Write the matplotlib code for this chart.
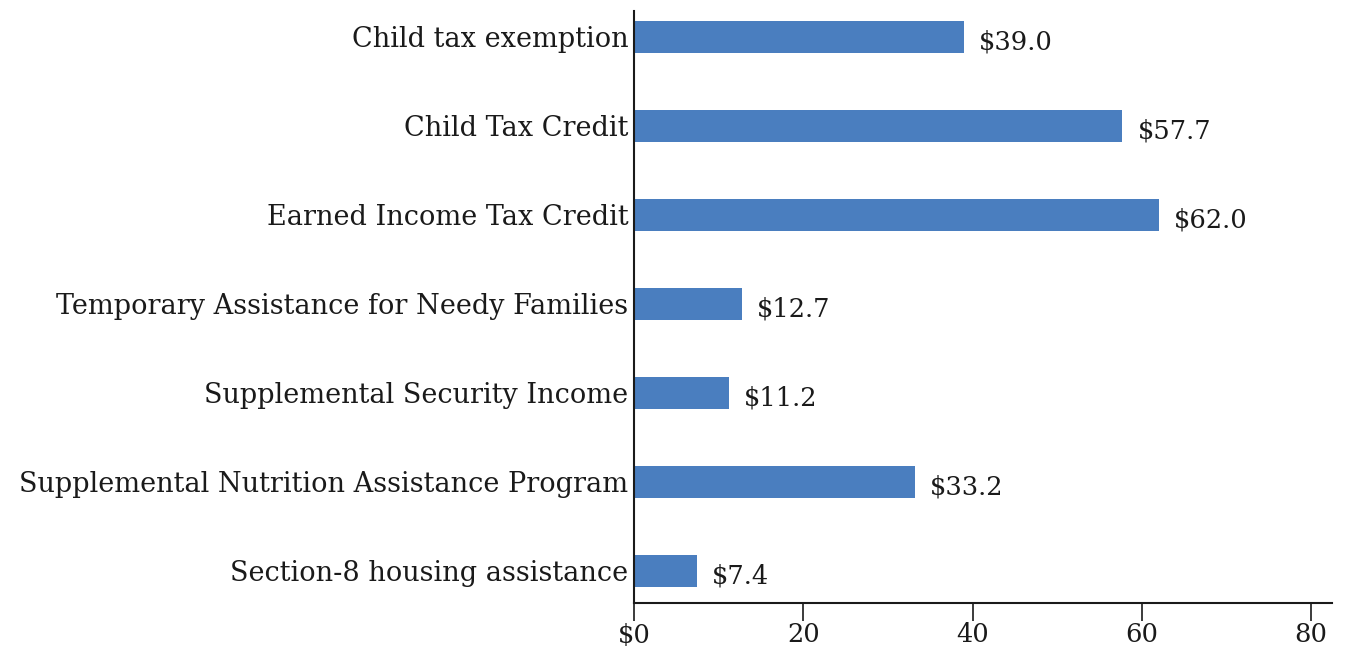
import matplotlib
matplotlib.use("Agg")
import matplotlib.pyplot as plt

categories = ["Child tax exemption", "Child Tax Credit", "Earned Income Tax Credit",
              "Temporary Assistance for Needy Families", "Supplemental Security Income",
              "Supplemental Nutrition Assistance Program", "Section-8 housing assistance"]
values = [39.0, 57.7, 62.0, 12.7, 11.2, 33.2, 7.4]
xticks = [0, 20, 40, 60, 80]
xtick_labels = ["$0", "20", "40", "60", "80"]

plt.rcParams['font.family'] = ['DejaVu Serif']
fig = plt.figure(figsize=(13.47, 6.46), dpi=100)
ax = fig.add_axes([0.4707, 0.0666, 0.5183, 0.9164])

n = len(categories)
ypos = list(range(n - 1, -1, -1))
ax.barh(ypos, values, height=0.36, color="#4a7ebf")
for y, v in zip(ypos, values):
    ax.text(v + 1.8, y - 0.06, f"${v:.1f}", va="center", ha="left", fontsize=18.5, color="#1a1a1a")

ax.set_yticks(ypos)
ax.set_yticklabels(categories, fontsize=19.5, color="#1a1a1a")
ax.set_xticks(xticks)
ax.set_xticklabels(xtick_labels, fontsize=18.5, color="#1a1a1a")
ax.set_xlim(0, 82.5)
ax.set_ylim(-0.36, n - 1 + 0.29)
ax.tick_params(axis="y", length=0, pad=4)
ax.tick_params(axis="x", length=13, width=1.2, direction="out", pad=1, colors="#1a1a1a")
for s in ["top", "right"]:
    ax.spines[s].set_visible(False)
for s in ["left", "bottom"]:
    ax.spines[s].set_linewidth(1.5)
    ax.spines[s].set_color("#1a1a1a")

fig.savefig("out.png", dpi=100)
